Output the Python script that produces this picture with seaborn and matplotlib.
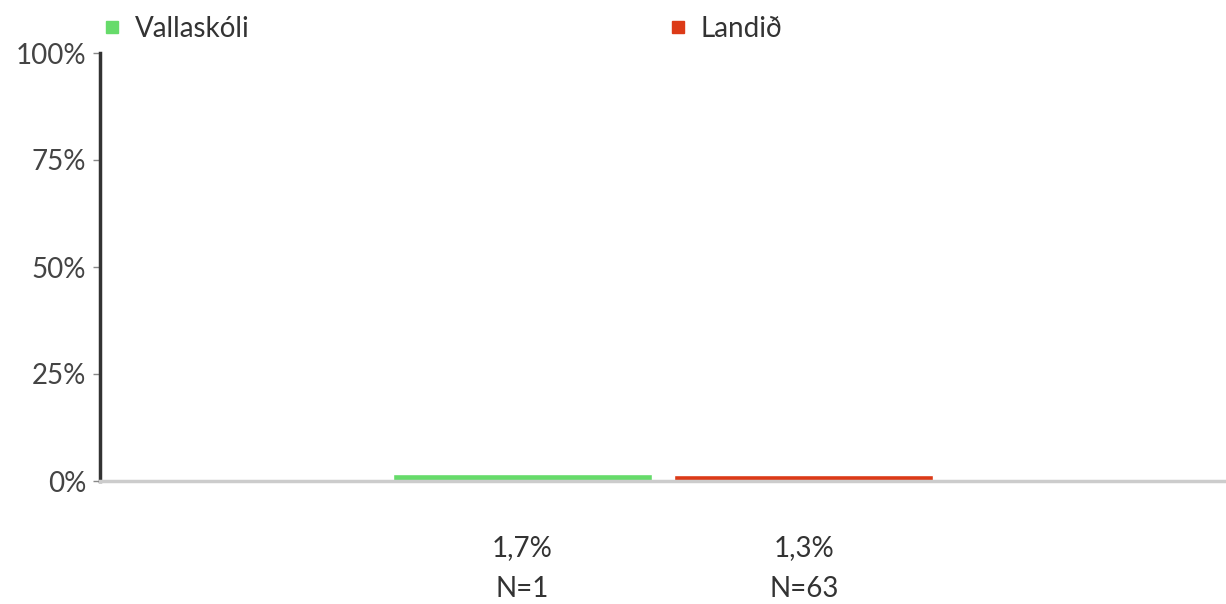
import matplotlib
matplotlib.use("Agg")
import matplotlib.pyplot as plt
from matplotlib.lines import Line2D
from matplotlib.transforms import blended_transform_factory
import pandas as pd
import seaborn as sns

# data
groups = ["Vallaskóli", "Landið"]
values = [1.7, 1.3]
n_counts = [1, 63]
value_labels = ["1,7%", "1,3%"]
colors = ["#66db6a", "#dc3a17"]
yticks = [0, 25, 50, 75, 100]
ytick_labels = ["0%", "25%", "50%", "75%", "100%"]

df = pd.DataFrame({"cat": [""] * len(groups), "group": groups, "value": values})

sns.set_style("white")
plt.rcParams["font.family"] = ["Lato", "DejaVu Sans"]

fig = plt.figure(figsize=(12.26, 6.04), dpi=100)
ax = fig.add_axes([100 / 1226, 123 / 604, 1126 / 1226, 428 / 604])

sns.barplot(data=df, x="cat", y="value", hue="group", palette=colors,
            width=0.5, gap=0.08, ax=ax, legend=False, saturation=1)

ax.set_xlim(-0.5, 0.5)
ax.set_ylim(0, 100)
ax.set_yticks(yticks)
ax.set_yticklabels(ytick_labels, fontsize=20, color="#444444")
ax.set_xticks([])
ax.set_xlabel("")
ax.set_ylabel("")
ax.tick_params(axis="y", length=5, width=1, color="#888888", pad=5, left=True)

for s in ["top", "right"]:
    ax.spines[s].set_visible(False)
ax.spines["left"].set_color("#333333")
ax.spines["left"].set_linewidth(2.5)
ax.spines["bottom"].set_color("#cccccc")
ax.spines["bottom"].set_linewidth(2.5)

# labels under bars
trans = blended_transform_factory(ax.transData, ax.transAxes)
for bar, lab, n in zip(ax.patches, value_labels, n_counts):
    cx = bar.get_x() + bar.get_width() / 2
    ax.text(cx, -0.157, lab, transform=trans, ha="center", va="center",
            fontsize=20, color="#333333")
    ax.text(cx, -0.253, f"N={n}", transform=trans, ha="center", va="center",
            fontsize=20, color="#333333")

handles = [Line2D([], [], marker="s", linestyle="", markersize=9,
                  markerfacecolor=c, markeredgecolor=c) for c in colors]
fig.legend(handles, groups, loc="upper left", bbox_to_anchor=(101 / 1226, 0.974),
           ncol=2, frameon=False, fontsize=20, handlelength=0.8,
           handletextpad=0.43, columnspacing=15.0, labelcolor="#333333",
           borderpad=0, borderaxespad=0)

fig.savefig("out.png", dpi=100)
